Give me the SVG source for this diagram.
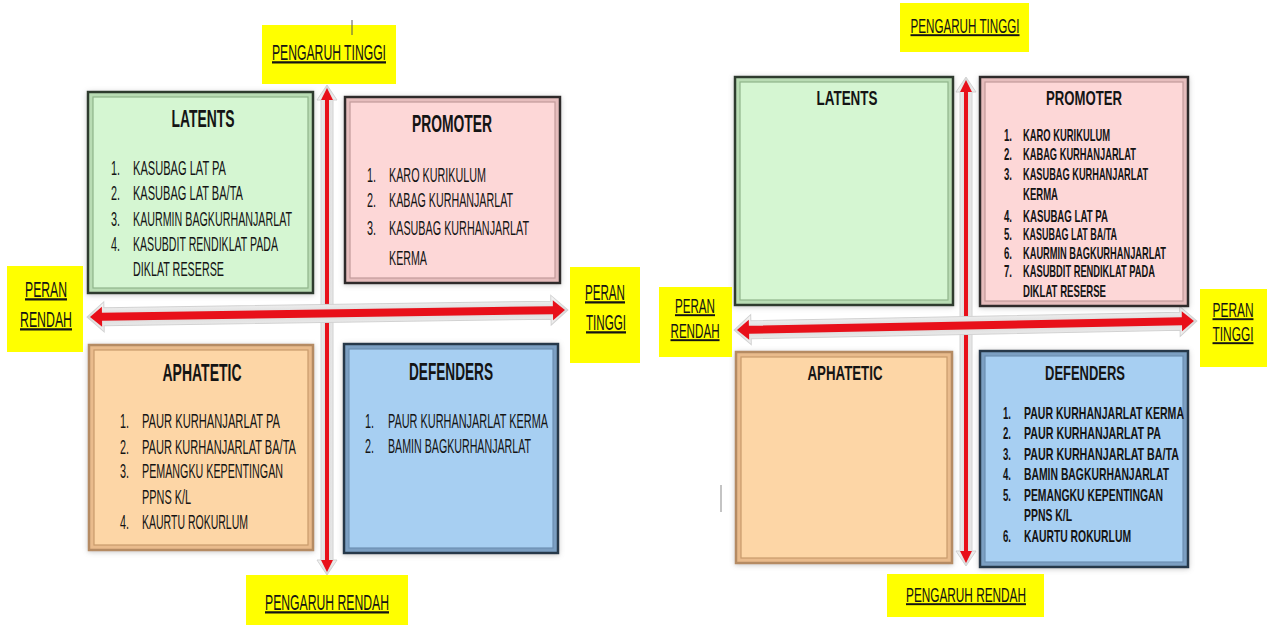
<svg xmlns="http://www.w3.org/2000/svg" width="1270" height="625" viewBox="0 0 1270 625">
  <defs>
    <style>
      .t { font-family: "Liberation Sans", Arial, sans-serif; fill: #141414; }
      .li { font-size: 19.5px; }
      .ri { font-size: 16.5px; font-weight: bold; }
      .lt { font-size: 23px; font-weight: bold; }
      .rt { font-size: 20px; font-weight: bold; }
      .lab { font-size: 22.5px; text-decoration: underline; }
      .labr { font-size: 19.5px; text-decoration: underline; }
      .mid { text-anchor: middle; }
      .yel { fill: #ffff00; }
      .red { fill: #e8101a; }
      .halo { fill: url(#haloV); stroke: #d2d2d2; stroke-width: 1; }
      .haloH { fill: url(#haloH); stroke: #d2d2d2; stroke-width: 1; }
    </style>
    <filter id="soft" x="-10%" y="-10%" width="120%" height="120%">
      <feDropShadow dx="0" dy="1" stdDeviation="2.5" flood-color="#8a8a8a" flood-opacity="0.45"/>
    </filter>
    <linearGradient id="haloH" x1="0" y1="0" x2="0" y2="1">
      <stop offset="0" stop-color="#fafafa"/>
      <stop offset="0.5" stop-color="#d9d9d9"/>
      <stop offset="1" stop-color="#f4f4f4"/>
    </linearGradient>
    <linearGradient id="haloV" x1="0" y1="0" x2="1" y2="0">
      <stop offset="0" stop-color="#fafafa"/>
      <stop offset="0.5" stop-color="#d9d9d9"/>
      <stop offset="1" stop-color="#f4f4f4"/>
    </linearGradient>
  </defs>

  <rect width="1270" height="625" fill="#ffffff"/>

  <g id="connectors">
    <!-- left matrix: vertical axis (pengaruh) -->
    <g transform="translate(327,88)">
      <polygon class="halo" points="0,-3 10,12 6,12 6,472 10,472 0,487 -10,472 -6,472 -6,12 -10,12"/>
      <polygon class="red" points="0,0 6,12 2,12 2,472 6,472 0,484 -6,472 -2,472 -2,12 -6,12"/>
    </g>
    <!-- left matrix: horizontal axis (peran) -->
    <g transform="translate(90,317) rotate(-0.84)">
      <polygon class="haloH" points="-3,0 14,-15 14,-9 461,-9 461,-15 478,0 461,15 461,9 14,9 14,15"/>
      <polygon class="red" points="0,0 12,-10 12,-4 463,-4 463,-10 475,0 463,10 463,4 12,4 12,10"/>
    </g>
    <!-- right matrix: vertical axis -->
    <g transform="translate(966,80)">
      <polygon class="halo" points="0,-3 10,12 6,12 6,471 10,471 0,486 -10,471 -6,471 -6,12 -10,12"/>
      <polygon class="red" points="0,0 6,12 2,12 2,471 6,471 0,483 -6,471 -2,471 -2,12 -6,12"/>
    </g>
    <!-- right matrix: horizontal axis -->
    <g transform="translate(737,330) rotate(-1.13)">
      <polygon class="haloH" points="-3,0 14,-15 14,-9 443,-9 443,-15 460,0 443,15 443,9 14,9 14,15"/>
      <polygon class="red" points="0,0 12,-10 12,-4 445,-4 445,-10 457,0 445,10 445,4 12,4 12,10"/>
    </g>
  </g>

  <!-- ===== left matrix ===== -->
  <g id="L-latents">
    <g filter="url(#soft)">
      <rect x="88" y="92" width="225" height="201" fill="#b9dcb4" stroke="#2f3a2f" stroke-width="2.5"/>
      <rect x="93" y="97" width="215" height="191" fill="#d5f6d2" stroke="#8fb58a" stroke-width="1.2"/>
    </g>
    <text class="t lt mid" transform="translate(203,127) scale(0.65,1)" textLength="96.9" lengthAdjust="spacingAndGlyphs">LATENTS</text>
    <text class="t li" transform="translate(111,175) scale(0.59,1)" textLength="15.3" lengthAdjust="spacingAndGlyphs">1.</text>
    <text class="t li" transform="translate(133,175) scale(0.59,1)" textLength="157.6" lengthAdjust="spacingAndGlyphs">KASUBAG LAT PA</text>
    <text class="t li" transform="translate(111,200) scale(0.59,1)" textLength="15.3" lengthAdjust="spacingAndGlyphs">2.</text>
    <text class="t li" transform="translate(133,200) scale(0.59,1)" textLength="186.4" lengthAdjust="spacingAndGlyphs">KASUBAG LAT BA/TA</text>
    <text class="t li" transform="translate(111,226) scale(0.59,1)" textLength="15.3" lengthAdjust="spacingAndGlyphs">3.</text>
    <text class="t li" transform="translate(133,226) scale(0.59,1)" textLength="269.5" lengthAdjust="spacingAndGlyphs">KAURMIN BAGKURHANJARLAT</text>
    <text class="t li" transform="translate(111,251) scale(0.59,1)" textLength="15.3" lengthAdjust="spacingAndGlyphs">4.</text>
    <text class="t li" transform="translate(133,251) scale(0.59,1)" textLength="245.8" lengthAdjust="spacingAndGlyphs">KASUBDIT RENDIKLAT PADA</text>
    <text class="t li" transform="translate(133,276) scale(0.59,1)" textLength="154.2" lengthAdjust="spacingAndGlyphs">DIKLAT RESERSE</text>
  </g>

  <g id="L-promoter">
    <g filter="url(#soft)">
      <rect x="345" y="97" width="215" height="186" fill="#e6bdbd" stroke="#2f2a2a" stroke-width="2.5"/>
      <rect x="350" y="102" width="205" height="176" fill="#fdd7d7" stroke="#c29a9a" stroke-width="1.2"/>
    </g>
    <text class="t lt mid" transform="translate(452,132) scale(0.65,1)" textLength="123.1" lengthAdjust="spacingAndGlyphs">PROMOTER</text>
    <text class="t li" transform="translate(367,182) scale(0.59,1)" textLength="15.3" lengthAdjust="spacingAndGlyphs">1.</text>
    <text class="t li" transform="translate(389,182) scale(0.59,1)" textLength="164.4" lengthAdjust="spacingAndGlyphs">KARO KURIKULUM</text>
    <text class="t li" transform="translate(367,207) scale(0.59,1)" textLength="15.3" lengthAdjust="spacingAndGlyphs">2.</text>
    <text class="t li" transform="translate(389,207) scale(0.59,1)" textLength="210.2" lengthAdjust="spacingAndGlyphs">KABAG KURHANJARLAT</text>
    <text class="t li" transform="translate(367,235) scale(0.59,1)" textLength="15.3" lengthAdjust="spacingAndGlyphs">3.</text>
    <text class="t li" transform="translate(389,235) scale(0.59,1)" textLength="237.3" lengthAdjust="spacingAndGlyphs">KASUBAG KURHANJARLAT</text>
    <text class="t li" transform="translate(389,265) scale(0.59,1)" textLength="64.4" lengthAdjust="spacingAndGlyphs">KERMA</text>
  </g>

  <g id="L-aphatetic">
    <g filter="url(#soft)">
      <rect x="89" y="345" width="224" height="205" fill="#e9bb8c" stroke="#b58b63" stroke-width="2.5"/>
      <rect x="94" y="350" width="214" height="195" fill="#fdd6a6" stroke="#c99a6c" stroke-width="1.2"/>
    </g>
    <text class="t lt mid" transform="translate(202,381) scale(0.65,1)" textLength="121.5" lengthAdjust="spacingAndGlyphs">APHATETIC</text>
    <text class="t li" transform="translate(120,428) scale(0.59,1)" textLength="15.3" lengthAdjust="spacingAndGlyphs">1.</text>
    <text class="t li" transform="translate(142,428) scale(0.59,1)" textLength="233.9" lengthAdjust="spacingAndGlyphs">PAUR KURHANJARLAT PA</text>
    <text class="t li" transform="translate(120,454) scale(0.59,1)" textLength="15.3" lengthAdjust="spacingAndGlyphs">2.</text>
    <text class="t li" transform="translate(142,454) scale(0.59,1)" textLength="261" lengthAdjust="spacingAndGlyphs">PAUR KURHANJARLAT BA/TA</text>
    <text class="t li" transform="translate(120,478) scale(0.59,1)" textLength="15.3" lengthAdjust="spacingAndGlyphs">3.</text>
    <text class="t li" transform="translate(142,478) scale(0.59,1)" textLength="239" lengthAdjust="spacingAndGlyphs">PEMANGKU KEPENTINGAN</text>
    <text class="t li" transform="translate(142,504) scale(0.59,1)" textLength="83.1" lengthAdjust="spacingAndGlyphs">PPNS K/L</text>
    <text class="t li" transform="translate(120,529) scale(0.59,1)" textLength="15.3" lengthAdjust="spacingAndGlyphs">4.</text>
    <text class="t li" transform="translate(142,529) scale(0.59,1)" textLength="179.7" lengthAdjust="spacingAndGlyphs">KAURTU ROKURLUM</text>
  </g>

  <g id="L-defenders">
    <g filter="url(#soft)">
      <rect x="344" y="344" width="214" height="209" fill="#7b9fc2" stroke="#26384a" stroke-width="2.5"/>
      <rect x="349" y="349" width="204" height="199" fill="#a7cff2" stroke="#6d90b2" stroke-width="1.2"/>
    </g>
    <text class="t lt mid" transform="translate(451,380) scale(0.65,1)" textLength="129.2" lengthAdjust="spacingAndGlyphs">DEFENDERS</text>
    <text class="t li" transform="translate(365,428) scale(0.59,1)" textLength="15.3" lengthAdjust="spacingAndGlyphs">1.</text>
    <text class="t li" transform="translate(388,428) scale(0.59,1)" textLength="271.2" lengthAdjust="spacingAndGlyphs">PAUR KURHANJARLAT KERMA</text>
    <text class="t li" transform="translate(365,453) scale(0.59,1)" textLength="15.3" lengthAdjust="spacingAndGlyphs">2.</text>
    <text class="t li" transform="translate(388,453) scale(0.59,1)" textLength="242.4" lengthAdjust="spacingAndGlyphs">BAMIN BAGKURHANJARLAT</text>
  </g>

  <!-- left matrix axis labels -->
  <g id="L-pengaruh-tinggi">
    <rect class="yel" x="262" y="25" width="134" height="59"/>
    <text class="t lab mid" transform="translate(329,60) scale(0.54,1)" textLength="211.1" lengthAdjust="spacingAndGlyphs">PENGARUH TINGGI</text>
  </g>
  <g id="L-peran-rendah">
    <rect class="yel" x="7" y="266" width="76" height="86"/>
    <text class="t lab mid" transform="translate(46,297) scale(0.54,1)" textLength="77.8" lengthAdjust="spacingAndGlyphs">PERAN</text>
    <text class="t lab mid" transform="translate(46,327) scale(0.54,1)" textLength="96.3" lengthAdjust="spacingAndGlyphs">RENDAH</text>
  </g>
  <g id="L-peran-tinggi">
    <rect class="yel" x="570" y="267" width="70" height="96"/>
    <text class="t lab mid" transform="translate(605,300) scale(0.54,1)" textLength="74.1" lengthAdjust="spacingAndGlyphs">PERAN</text>
    <text class="t lab mid" transform="translate(606,330) scale(0.54,1)" textLength="74.1" lengthAdjust="spacingAndGlyphs">TINGGI</text>
  </g>
  <g id="L-pengaruh-rendah">
    <rect class="yel" x="246" y="575" width="162" height="50"/>
    <text class="t lab mid" transform="translate(327,610) scale(0.54,1)" textLength="229.6" lengthAdjust="spacingAndGlyphs">PENGARUH RENDAH</text>
  </g>
  <line x1="352" y1="20" x2="352" y2="35" stroke="#555" stroke-width="1"/>

  <!-- ===== right matrix ===== -->
  <g id="R-latents">
    <g filter="url(#soft)">
      <rect x="735" y="77" width="218" height="228" fill="#b9dcb4" stroke="#2f3a2f" stroke-width="2.5"/>
      <rect x="740" y="82" width="208" height="218" fill="#d5f6d2" stroke="#8fb58a" stroke-width="1.2"/>
    </g>
    <text class="t rt mid" transform="translate(847,105) scale(0.68,1)" textLength="89.7" lengthAdjust="spacingAndGlyphs">LATENTS</text>
  </g>

  <g id="R-promoter">
    <g filter="url(#soft)">
      <rect x="980" y="77" width="208" height="229" fill="#e6bdbd" stroke="#2f2a2a" stroke-width="2.5"/>
      <rect x="985" y="82" width="198" height="219" fill="#fdd7d7" stroke="#c29a9a" stroke-width="1.2"/>
    </g>
    <text class="t rt mid" transform="translate(1084,105) scale(0.68,1)" textLength="111.8" lengthAdjust="spacingAndGlyphs">PROMOTER</text>
    <text class="t ri" transform="translate(1004,141) scale(0.59,1)" textLength="13.6" lengthAdjust="spacingAndGlyphs">1.</text>
    <text class="t ri" transform="translate(1023,141) scale(0.59,1)" textLength="147.5" lengthAdjust="spacingAndGlyphs">KARO KURIKULUM</text>
    <text class="t ri" transform="translate(1004,160) scale(0.59,1)" textLength="13.6" lengthAdjust="spacingAndGlyphs">2.</text>
    <text class="t ri" transform="translate(1023,160) scale(0.59,1)" textLength="191.5" lengthAdjust="spacingAndGlyphs">KABAG KURHANJARLAT</text>
    <text class="t ri" transform="translate(1004,180) scale(0.59,1)" textLength="13.6" lengthAdjust="spacingAndGlyphs">3.</text>
    <text class="t ri" transform="translate(1023,180) scale(0.59,1)" textLength="211.9" lengthAdjust="spacingAndGlyphs">KASUBAG KURHANJARLAT</text>
    <text class="t ri" transform="translate(1023,200) scale(0.59,1)" textLength="59.3" lengthAdjust="spacingAndGlyphs">KERMA</text>
    <text class="t ri" transform="translate(1004,222) scale(0.59,1)" textLength="13.6" lengthAdjust="spacingAndGlyphs">4.</text>
    <text class="t ri" transform="translate(1023,222) scale(0.59,1)" textLength="144.1" lengthAdjust="spacingAndGlyphs">KASUBAG LAT PA</text>
    <text class="t ri" transform="translate(1004,240) scale(0.59,1)" textLength="13.6" lengthAdjust="spacingAndGlyphs">5.</text>
    <text class="t ri" transform="translate(1023,240) scale(0.59,1)" textLength="159.3" lengthAdjust="spacingAndGlyphs">KASUBAG LAT BA/TA</text>
    <text class="t ri" transform="translate(1004,259) scale(0.59,1)" textLength="13.6" lengthAdjust="spacingAndGlyphs">6.</text>
    <text class="t ri" transform="translate(1023,259) scale(0.59,1)" textLength="242.4" lengthAdjust="spacingAndGlyphs">KAURMIN BAGKURHANJARLAT</text>
    <text class="t ri" transform="translate(1004,277) scale(0.59,1)" textLength="13.6" lengthAdjust="spacingAndGlyphs">7.</text>
    <text class="t ri" transform="translate(1023,277) scale(0.59,1)" textLength="223.7" lengthAdjust="spacingAndGlyphs">KASUBDIT RENDIKLAT PADA</text>
    <text class="t ri" transform="translate(1023,297) scale(0.59,1)" textLength="140.7" lengthAdjust="spacingAndGlyphs">DIKLAT RESERSE</text>
  </g>

  <g id="R-aphatetic">
    <g filter="url(#soft)">
      <rect x="736" y="352" width="216" height="211" fill="#e9bb8c" stroke="#b58b63" stroke-width="2.5"/>
      <rect x="741" y="357" width="206" height="201" fill="#fdd6a6" stroke="#c99a6c" stroke-width="1.2"/>
    </g>
    <text class="t rt mid" transform="translate(845,380) scale(0.68,1)" textLength="110.3" lengthAdjust="spacingAndGlyphs">APHATETIC</text>
  </g>

  <g id="R-defenders">
    <g filter="url(#soft)">
      <rect x="980" y="351" width="208" height="216" fill="#7b9fc2" stroke="#26384a" stroke-width="2.5"/>
      <rect x="985" y="356" width="198" height="206" fill="#a7cff2" stroke="#6d90b2" stroke-width="1.2"/>
    </g>
    <text class="t rt mid" transform="translate(1085,380) scale(0.68,1)" textLength="117.6" lengthAdjust="spacingAndGlyphs">DEFENDERS</text>
    <text class="t ri" transform="translate(1003,419) scale(0.59,1)" textLength="13.6" lengthAdjust="spacingAndGlyphs">1.</text>
    <text class="t ri" transform="translate(1024,419) scale(0.59,1)" textLength="271.2" lengthAdjust="spacingAndGlyphs">PAUR KURHANJARLAT KERMA</text>
    <text class="t ri" transform="translate(1003,439) scale(0.59,1)" textLength="13.6" lengthAdjust="spacingAndGlyphs">2.</text>
    <text class="t ri" transform="translate(1024,439) scale(0.59,1)" textLength="232.2" lengthAdjust="spacingAndGlyphs">PAUR KURHANJARLAT PA</text>
    <text class="t ri" transform="translate(1003,460) scale(0.59,1)" textLength="13.6" lengthAdjust="spacingAndGlyphs">3.</text>
    <text class="t ri" transform="translate(1024,460) scale(0.59,1)" textLength="262.7" lengthAdjust="spacingAndGlyphs">PAUR KURHANJARLAT BA/TA</text>
    <text class="t ri" transform="translate(1003,480) scale(0.59,1)" textLength="13.6" lengthAdjust="spacingAndGlyphs">4.</text>
    <text class="t ri" transform="translate(1024,480) scale(0.59,1)" textLength="245.8" lengthAdjust="spacingAndGlyphs">BAMIN BAGKURHANJARLAT</text>
    <text class="t ri" transform="translate(1003,501) scale(0.59,1)" textLength="13.6" lengthAdjust="spacingAndGlyphs">5.</text>
    <text class="t ri" transform="translate(1024,501) scale(0.59,1)" textLength="235.6" lengthAdjust="spacingAndGlyphs">PEMANGKU KEPENTINGAN</text>
    <text class="t ri" transform="translate(1024,521) scale(0.59,1)" textLength="81.4" lengthAdjust="spacingAndGlyphs">PPNS K/L</text>
    <text class="t ri" transform="translate(1003,542) scale(0.59,1)" textLength="13.6" lengthAdjust="spacingAndGlyphs">6.</text>
    <text class="t ri" transform="translate(1024,542) scale(0.59,1)" textLength="181.4" lengthAdjust="spacingAndGlyphs">KAURTU ROKURLUM</text>
  </g>

  <!-- right matrix axis labels -->
  <g id="R-pengaruh-tinggi">
    <rect class="yel" x="900" y="3" width="129" height="49"/>
    <text class="t labr mid" transform="translate(965,33) scale(0.6,1)" textLength="181.7" lengthAdjust="spacingAndGlyphs">PENGARUH TINGGI</text>
  </g>
  <g id="R-peran-rendah">
    <rect class="yel" x="659" y="287" width="73" height="70"/>
    <text class="t labr mid" transform="translate(695,313) scale(0.6,1)" textLength="66.7" lengthAdjust="spacingAndGlyphs">PERAN</text>
    <text class="t labr mid" transform="translate(695,338) scale(0.6,1)" textLength="81.7" lengthAdjust="spacingAndGlyphs">RENDAH</text>
  </g>
  <g id="R-peran-tinggi">
    <rect class="yel" x="1200" y="289" width="67" height="78"/>
    <text class="t labr mid" transform="translate(1233,317) scale(0.6,1)" textLength="68.3" lengthAdjust="spacingAndGlyphs">PERAN</text>
    <text class="t labr mid" transform="translate(1233,341) scale(0.6,1)" textLength="68.3" lengthAdjust="spacingAndGlyphs">TINGGI</text>
  </g>
  <g id="R-pengaruh-rendah">
    <rect class="yel" x="887" y="574" width="157" height="43"/>
    <text class="t labr mid" transform="translate(966,602) scale(0.6,1)" textLength="200" lengthAdjust="spacingAndGlyphs">PENGARUH RENDAH</text>
  </g>
  <line x1="721" y1="485" x2="721" y2="512" stroke="#b0b0b0" stroke-width="1.5"/>
</svg>
